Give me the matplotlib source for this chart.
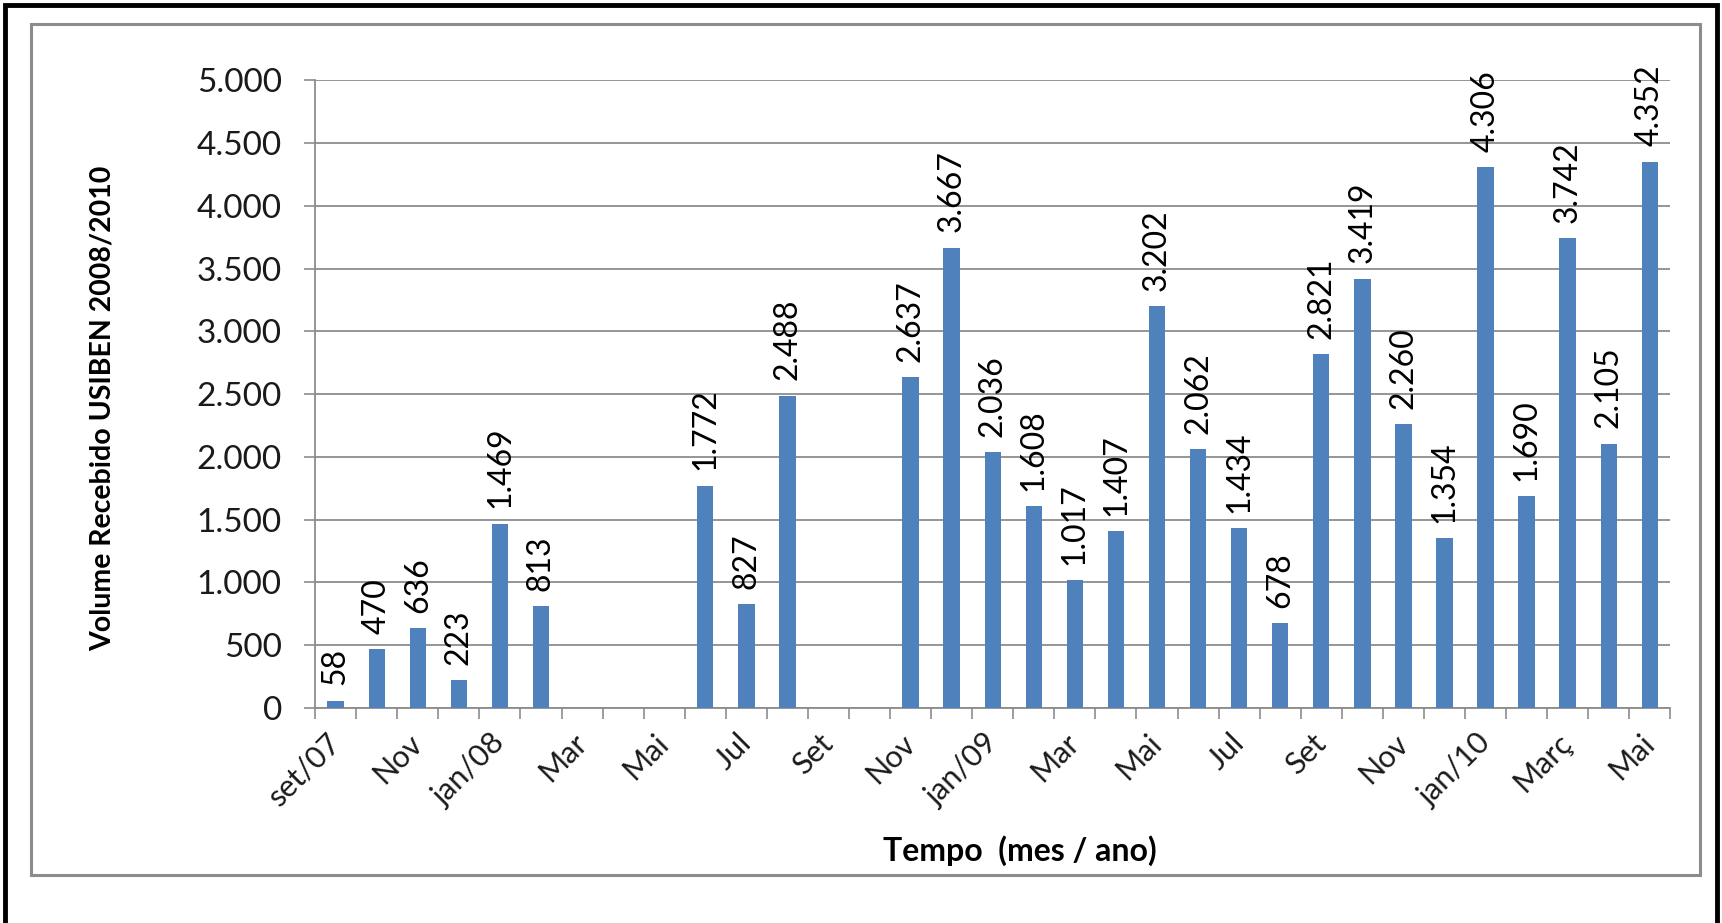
import matplotlib
matplotlib.use('Agg')
import matplotlib.pyplot as plt
from matplotlib.patches import Rectangle

# Monthly volume received (set/07 .. Mai/10), None = no data
months = ['set/07', 'out', 'Nov', 'dez', 'jan/08', 'fev', 'Mar', 'abr', 'Mai', 'jun',
          'Jul', 'ago', 'Set', 'out', 'Nov', 'dez', 'jan/09', 'fev', 'Mar', 'abr',
          'Mai', 'jun', 'Jul', 'ago', 'Set', 'out', 'Nov', 'dez', 'jan/10', 'fev',
          'Març', 'abr', 'Mai']
volume = [58, 470, 636, 223, 1469, 813, None, None, None, 1772,
          827, 2488, None, None, 2637, 3667, 2036, 1608, 1017, 1407,
          3202, 2062, 1434, 678, 2821, 3419, 2260, 1354, 4306, 1690,
          3742, 2105, 4352]
y_ticks = [0, 500, 1000, 1500, 2000, 2500, 3000, 3500, 4000, 4500, 5000]

plt.rcParams['font.family'] = ['Lato', 'DejaVu Sans']

bar_color = '#4F81BD'
grid_color = '#8C8C8C'


def fmt(v):
    return f"{v:,}".replace(',', '.')


fig = plt.figure(figsize=(17.22, 9.23), dpi=100)
ax = fig.add_axes([0.183, 0.233, 0.787, 0.680])

x = list(range(len(months)))
heights = [0 if v is None else v for v in volume]
bars = ax.bar(x, heights, width=0.4, color=bar_color, zorder=3)

# data labels, rotated like the Excel original
for xi, v in zip(x, volume):
    if v is None:
        continue
    ax.annotate(fmt(v), (xi, v), xytext=(0, 11), textcoords='offset points',
                rotation=90, ha='center', va='bottom', fontsize=23, color='black')

ax.set_xlim(-0.5, len(months) - 0.5)
ax.set_ylim(0, 5000)
ax.set_yticks(y_ticks)
ax.set_yticklabels([fmt(t) for t in y_ticks], fontsize=24, color='#1a1a1a')
ax.tick_params(axis='y', length=8, width=1.2, color=grid_color, pad=16)

# labels every other month, tick marks on category boundaries
ax.set_xticks(x[::2])
ax.set_xticklabels(months[::2], rotation=45, ha='right', va='center',
                   rotation_mode='anchor', fontsize=22, color='#1a1a1a')
ax.tick_params(axis='x', length=0, pad=22)
ax.set_xticks([i - 0.5 for i in range(len(months) + 1)], minor=True)
ax.tick_params(axis='x', which='minor', length=8, width=1.2, color=grid_color)

ax.grid(axis='y', color=grid_color, linewidth=1.3, zorder=0)
for s in ['top', 'right']:
    ax.spines[s].set_visible(False)
for s in ['left', 'bottom']:
    ax.spines[s].set_color(grid_color)
    ax.spines[s].set_linewidth(1.3)

ax.set_ylabel('Volume Recebido USIBEN 2008/2010', fontsize=20.5, fontweight='bold')
ax.yaxis.set_label_coords(-0.147, 0.477)
fig.text(0.592, 0.078, 'Tempo  (mes / ano)', fontsize=23, fontweight='bold', ha='center', va='center')

# chart area border and outer black frame
fig.patches.append(Rectangle((0.018, 0.052), 0.969, 0.922, transform=fig.transFigure,
                             fill=False, edgecolor='#8C8C8C', linewidth=2.2))
fig.patches.append(Rectangle((0.003, -0.01), 0.994, 1.005, transform=fig.transFigure,
                             fill=False, edgecolor='black', linewidth=3.5))

fig.savefig('out.png', dpi=100)
